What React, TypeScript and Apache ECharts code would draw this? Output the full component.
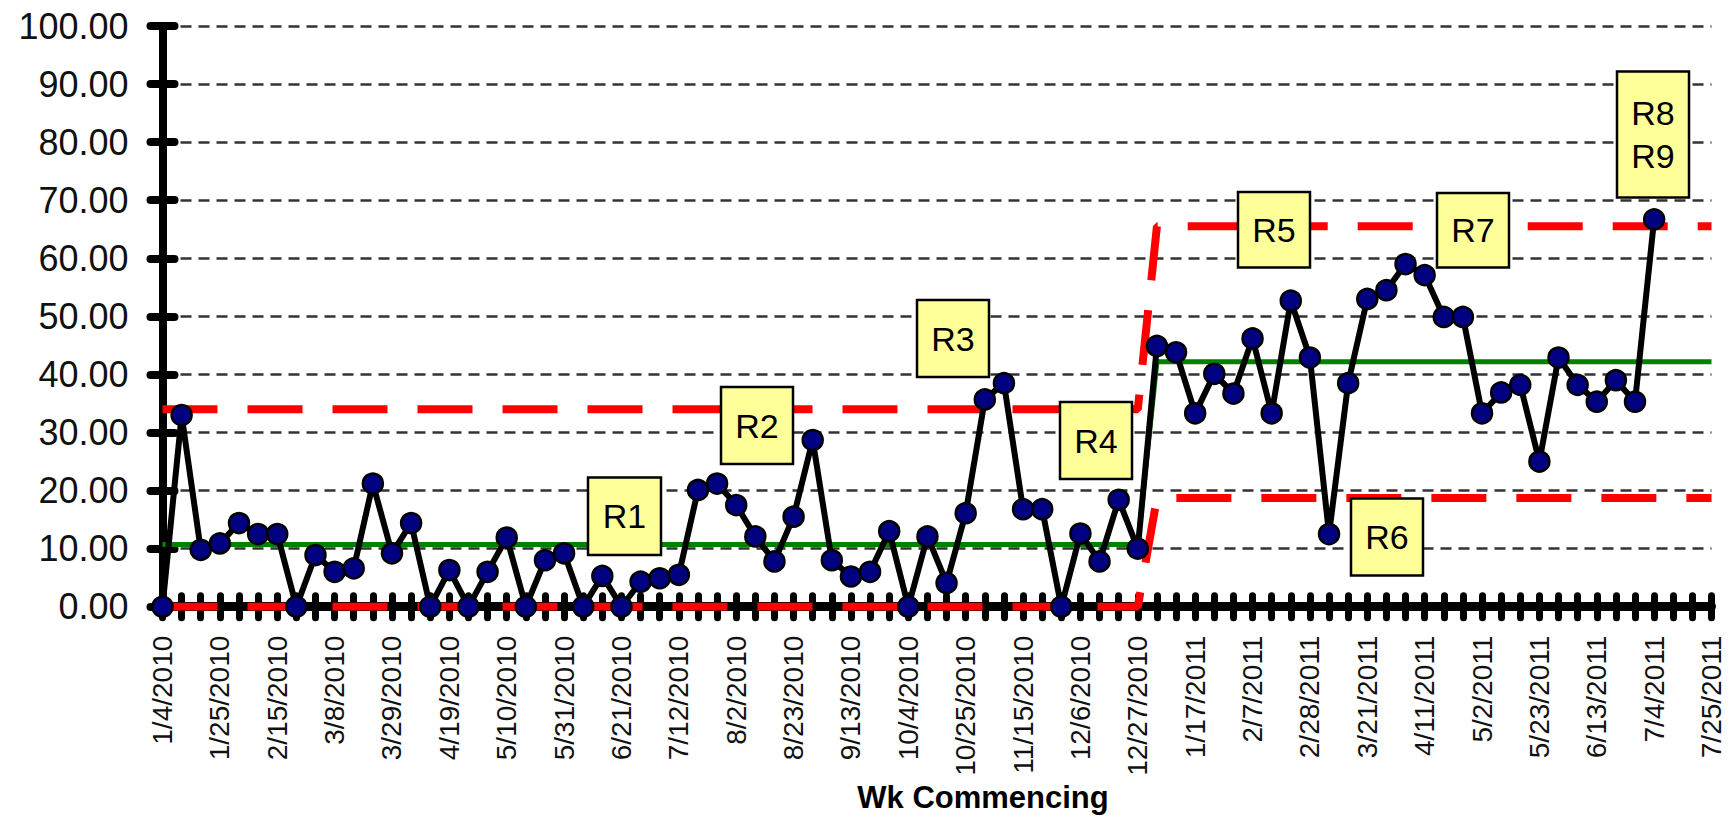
import React, { useEffect, useRef } from "react";
import * as echarts from "echarts";

// Week-commencing categories (x axis)
const weeks: string[] = [
  "1/4/2010", "1/11/2010", "1/18/2010", "1/25/2010", "2/1/2010", "2/8/2010", "2/15/2010", "2/22/2010",
  "3/1/2010", "3/8/2010", "3/15/2010", "3/22/2010", "3/29/2010", "4/5/2010", "4/12/2010", "4/19/2010",
  "4/26/2010", "5/3/2010", "5/10/2010", "5/17/2010", "5/24/2010", "5/31/2010", "6/7/2010", "6/14/2010",
  "6/21/2010", "6/28/2010", "7/5/2010", "7/12/2010", "7/19/2010", "7/26/2010", "8/2/2010", "8/9/2010",
  "8/16/2010", "8/23/2010", "8/30/2010", "9/6/2010", "9/13/2010", "9/20/2010", "9/27/2010", "10/4/2010",
  "10/11/2010", "10/18/2010", "10/25/2010", "11/1/2010", "11/8/2010", "11/15/2010", "11/22/2010", "11/29/2010",
  "12/6/2010", "12/13/2010", "12/20/2010", "12/27/2010",
  "1/3/2011", "1/10/2011", "1/17/2011", "1/24/2011", "1/31/2011", "2/7/2011", "2/14/2011", "2/21/2011",
  "2/28/2011", "3/7/2011", "3/14/2011", "3/21/2011", "3/28/2011", "4/4/2011", "4/11/2011", "4/18/2011",
  "4/25/2011", "5/2/2011", "5/9/2011", "5/16/2011", "5/23/2011", "5/30/2011", "6/6/2011", "6/13/2011",
  "6/20/2011", "6/27/2011", "7/4/2011", "7/11/2011", "7/18/2011", "7/25/2011",
];

// Weekly values (1/4/2010 .. 7/4/2011)
const values: number[] = [
  0, 33.0, 9.8, 10.9, 14.4, 12.5, 12.5, 0, 8.9, 6.0,
  6.6, 21.2, 9.2, 14.4, 0, 6.3, 0, 6.0, 11.9, 0,
  8.0, 9.2, 0, 5.3, 0, 4.3, 4.9, 5.5, 20.1, 21.2,
  17.5, 12.1, 7.8, 15.5, 28.7, 8.0, 5.2, 6.0, 13.0, 0,
  12.1, 4.1, 16.1, 35.7, 38.5, 16.8, 16.8, 0, 12.6, 7.8,
  18.4, 10.0, 44.9, 43.8, 33.3, 40.1, 36.7, 46.2, 33.3, 52.7,
  42.9, 12.5, 38.5, 53.0, 54.5, 59.0, 57.1, 49.9, 49.9, 33.3,
  36.9, 38.2, 25.0, 42.9, 38.2, 35.3, 39.0, 35.3, 66.7,
];

// Control-limit phases
const phaseStarts: number[] = [0, 52];
const phaseMeans: number[] = [10.7, 42.2];
const phaseUCL: number[] = [34.0, 65.5];
const phaseLCL: number[] = [0, 18.7];

// Annotation labels
const noteTexts: string[] = ["R1", "R2", "R3", "R4", "R5", "R6", "R7", "R8\nR9"];

const FONT = "'Liberation Sans', Arial, sans-serif";

function phaseSeries(levels: number[]): number[] {
  return weeks.map((_, i) => {
    let p = 0;
    for (let k = 0; k < phaseStarts.length; k++) if (i >= phaseStarts[k]) p = k;
    return levels[p];
  });
}

// annotation box placement (pixels)
const noteBoxes = [
  { x: 588, y: 477.5, w: 73, h: 77.5 },
  { x: 721, y: 387, w: 72, h: 77 },
  { x: 917, y: 300, w: 72, h: 77 },
  { x: 1060, y: 402, w: 72, h: 77 },
  { x: 1238, y: 192, w: 72, h: 75.5 },
  { x: 1351, y: 498.5, w: 72, h: 77 },
  { x: 1437, y: 193, w: 72, h: 74.5 },
  { x: 1617, y: 71.5, w: 72, h: 126 },
];

export default function App() {
  const ref = useRef<HTMLDivElement>(null);
  useEffect(() => {
    if (!ref.current) return;
    const chart = echarts.init(ref.current, undefined, { renderer: "svg" });

    const graphics: any[] = noteBoxes.map((b, i) => ({
      type: "group",
      z: 100,
      children: [
        {
          type: "rect",
          shape: { x: b.x, y: b.y, width: b.w, height: b.h },
          style: { fill: "#FFFF99", stroke: "#000", lineWidth: 2.5 },
          z: 100,
        },
        {
          type: "text",
          x: b.x + b.w / 2,
          y: b.y + b.h / 2,
          z: 101,
          style: {
            text: noteTexts[i],
            fontSize: 34,
            fontFamily: FONT,
            fill: "#000",
            align: "center",
            verticalAlign: "middle",
            lineHeight: 43,
          },
        },
      ],
    }));
    graphics.push({
      type: "text",
      x: 983,
      y: 797,
      z: 100,
      style: {
        text: "Wk Commencing",
        fontSize: 31,
        fontWeight: "bold",
        fontFamily: FONT,
        fill: "#000",
        align: "center",
        verticalAlign: "middle",
      },
    });

    const xBase = {
      type: "category",
      data: weeks,
      boundaryGap: false,
      position: "bottom",
    };
    const yBase = {
      type: "value",
      min: 0,
      max: 100,
      interval: 10,
      position: "left",
    };

    chart.setOption({
      animation: false,
      backgroundColor: "#fff",
      grid: { left: 162.5, right: 18.5, top: 26, bottom: 211.3, containLabel: false },
      xAxis: [
        {
          ...xBase,
          axisLine: { onZero: false, lineStyle: { color: "#000", width: 9 } },
          axisTick: {
            show: true,
            interval: 0,
            length: 11,
            lineStyle: { color: "#000", width: 7, cap: "round" },
          },
          axisLabel: {
            interval: 2,
            rotate: 90,
            margin: 29,
            fontSize: 28,
            fontFamily: FONT,
            color: "#111",
          },
          splitLine: { show: false },
        },
        {
          ...xBase,
          axisLine: { show: false, onZero: false },
          axisTick: {
            show: true,
            inside: true,
            interval: 0,
            length: 11,
            lineStyle: { color: "#000", width: 7, cap: "round" },
          },
          axisLabel: { show: false },
          splitLine: { show: false },
        },
      ],
      yAxis: [
        {
          ...yBase,
          axisLine: { show: true, lineStyle: { color: "#000", width: 8 } },
          axisTick: {
            show: true,
            length: 12,
            lineStyle: { color: "#000", width: 8, cap: "round" },
          },
          axisLabel: {
            margin: 34,
            fontSize: 36,
            fontFamily: FONT,
            color: "#111",
            formatter: (v: number) => v.toFixed(2),
          },
          splitLine: {
            show: true,
            lineStyle: { color: "#333", width: 2.5, type: [11, 7] },
          },
        },
        {
          ...yBase,
          axisLine: { show: false },
          axisTick: {
            show: true,
            inside: true,
            length: 12,
            lineStyle: { color: "#000", width: 8, cap: "round" },
          },
          axisLabel: { show: false },
          splitLine: { show: false },
        },
      ],
      graphic: graphics,
      series: [
        {
          name: "Mean",
          type: "line",
          data: phaseSeries(phaseMeans),
          symbol: "none",
          lineStyle: { color: "#008000", width: 5 },
          z: 2,
        },
        {
          name: "UCL",
          type: "line",
          data: phaseSeries(phaseUCL),
          symbol: "none",
          lineStyle: { color: "#FF0000", width: 8, type: [55, 30] },
          z: 3,
        },
        {
          name: "LCL",
          type: "line",
          data: phaseSeries(phaseLCL),
          symbol: "none",
          lineStyle: { color: "#FF0000", width: 8, type: [55, 30] },
          z: 3,
        },
        {
          name: "Value",
          type: "line",
          data: values,
          symbol: "circle",
          symbolSize: 20,
          showAllSymbol: true,
          lineStyle: { color: "#000", width: 6 },
          itemStyle: { color: "#000080", borderColor: "#000", borderWidth: 2.5 },
          z: 5,
        },
      ],
    });
    return () => chart.dispose();
  }, []);
  return (
    <div
      ref={ref}
      style={{ position: "absolute", left: 0, top: 0, width: 1730, height: 818 }}
    />
  );
}
